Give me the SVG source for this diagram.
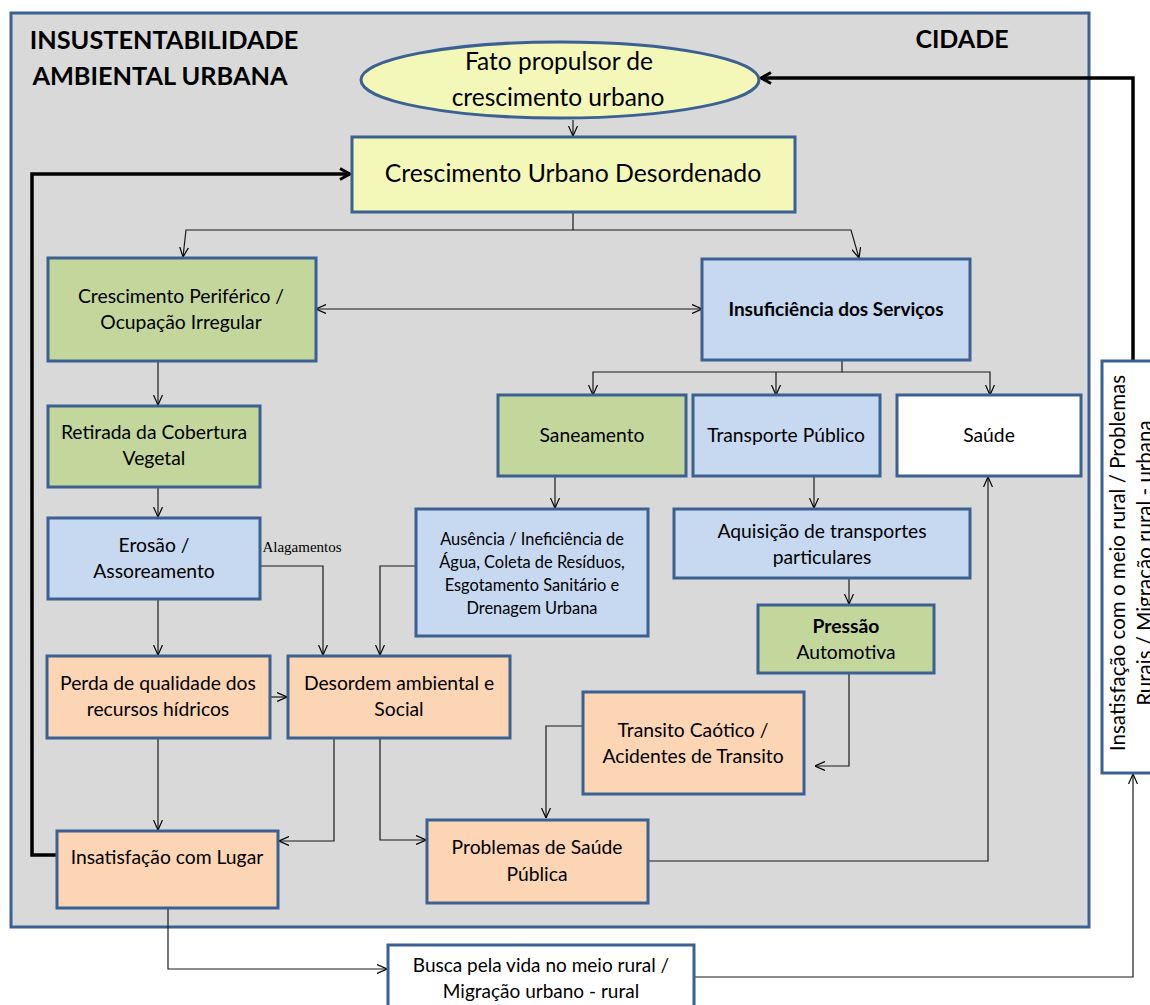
<svg xmlns="http://www.w3.org/2000/svg" width="1150" height="1005" viewBox="0 0 1150 1005">
<style>
.box{stroke:#3b6192;stroke-width:3}
.blue{fill:#c6d9f1}
.green{fill:#c3d69b}
.peach{fill:#fcd5b5}
.yellow{fill:#f3f8b8}
.white{fill:#ffffff}
text{font-family:Lato,"Open Sans","Liberation Sans",sans-serif;fill:#000;text-anchor:middle}
.t18{font-size:19.3px}
.t15{font-size:16.4px}
.b{font-weight:bold}
.c{fill:none;stroke:#1a1a1a;stroke-width:1.2}
.k{fill:none;stroke:#000;stroke-width:3.5}
</style>
<defs>
<marker id="a" viewBox="0 0 10 10" refX="10" refY="5" markerWidth="10" markerHeight="10" markerUnits="userSpaceOnUse" orient="auto-start-reverse">
<path d="M0,0.5 L10,5 L0,9.5" fill="none" stroke="#000" stroke-width="1.2"/>
</marker>
<marker id="k" viewBox="0 0 14 14" refX="12" refY="7" markerWidth="14" markerHeight="14" markerUnits="userSpaceOnUse" orient="auto-start-reverse">
<path d="M2,1.5 L12,7 L2,12.5" fill="none" stroke="#000" stroke-width="3"/>
</marker>
</defs>

<g id="cidade">
<rect x="11" y="13" width="1078" height="914" fill="#d9d9d9" stroke="#3b6192" stroke-width="3"/>
<text x="164" y="49" class="b" style="font-size:25.3px">INSUSTENTABILIDADE</text>
<text x="160" y="85" class="b" style="font-size:25.3px">AMBIENTAL URBANA</text>
<text x="962" y="48" class="b" style="font-size:25px">CIDADE</text>
</g>

<g id="connectors">
<path class="c" d="M573,120 V136" marker-end="url(#a)"/>
<path class="c" d="M573,212 V230 H186 L183,257" marker-end="url(#a)"/>
<path class="c" d="M573,230 H851 L859,258" marker-end="url(#a)"/>
<path class="c" d="M316,309 H702" marker-start="url(#a)" marker-end="url(#a)"/>
<path class="c" d="M842,360 V372 H593 V395" marker-end="url(#a)"/>
<path class="c" d="M776,372 V395" marker-end="url(#a)"/>
<path class="c" d="M842,372 H990 V395" marker-end="url(#a)"/>
<path class="c" d="M555,476 V508" marker-end="url(#a)"/>
<path class="c" d="M814,476 V508" marker-end="url(#a)"/>
<path class="c" d="M849,578 V604" marker-end="url(#a)"/>
<path class="c" d="M849,673 V766 H815" marker-end="url(#a)"/>
<path class="c" d="M583,726 H546 V818" marker-end="url(#a)"/>
<path class="c" d="M639,861 H988 V477" marker-end="url(#a)"/>
<path class="c" d="M158,361 V405" marker-end="url(#a)"/>
<path class="c" d="M158,487 V517" marker-end="url(#a)"/>
<path class="c" d="M260,566 H323 V655" marker-end="url(#a)"/>
<path class="c" d="M416,566 H380 V655" marker-end="url(#a)"/>
<path class="c" d="M158,599 V655" marker-end="url(#a)"/>
<path class="c" d="M270,697 H287" marker-end="url(#a)"/>
<path class="c" d="M158,738 V830" marker-end="url(#a)"/>
<path class="c" d="M334,738 V841 H279" marker-end="url(#a)"/>
<path class="c" d="M380,738 V840 H426" marker-end="url(#a)"/>
<path class="c" d="M168,908 V969 H387" marker-end="url(#a)"/>
<path class="c" d="M694,977 H1133 V774" marker-end="url(#a)"/>
<path class="k" d="M57,855 H32 V174 H350" marker-end="url(#k)"/>
<path class="k" d="M1133,361 V78 H761" marker-end="url(#k)"/>
<text x="302" y="552" style="font-family:'Liberation Serif','Times New Roman',serif;font-size:15px">Alagamentos</text>
</g>

<g id="fato">
<ellipse cx="560" cy="80" rx="199" ry="38" class="box yellow"/>
<text x="559" y="70" style="font-size:24.5px">Fato propulsor de</text>
<text x="558" y="106" style="font-size:24.5px">crescimento urbano</text>
</g>

<g id="crescimento-desordenado">
<rect x="352" y="137" width="443" height="75" class="box yellow"/>
<text x="573" y="182" style="font-size:24.8px">Crescimento Urbano Desordenado</text>
</g>

<g id="periferico">
<rect x="48" y="258" width="268" height="103" class="box green"/>
<text x="181" y="303" class="t18">Crescimento Periférico /</text>
<text x="181" y="329" class="t18">Ocupação Irregular</text>
</g>

<g id="insuficiencia">
<rect x="702" y="259" width="268" height="101" class="box blue"/>
<text x="836" y="316" class="b" style="font-size:19px">Insuficiência dos Serviços</text>
</g>

<g id="saneamento">
<rect x="498" y="395" width="188" height="81" class="box green"/>
<text x="592" y="442" class="t18">Saneamento</text>
</g>

<g id="transporte">
<rect x="693" y="395" width="187" height="81" class="box blue"/>
<text x="786" y="442" class="t18">Transporte Público</text>
</g>

<g id="saude">
<rect x="897" y="395" width="184" height="81" class="box white"/>
<text x="989" y="442" class="t18">Saúde</text>
</g>

<g id="retirada">
<rect x="48" y="406" width="212" height="81" class="box green"/>
<text x="154" y="439" class="t18">Retirada da Cobertura</text>
<text x="154" y="465" class="t18">Vegetal</text>
</g>

<g id="erosao">
<rect x="48" y="518" width="212" height="81" class="box blue"/>
<text x="154" y="552" class="t18">Erosão /</text>
<text x="154" y="578" class="t18">Assoreamento</text>
</g>

<g id="ausencia">
<rect x="416" y="509" width="232" height="127" class="box blue"/>
<text x="532" y="545" class="t15">Ausência / Ineficiência de</text>
<text x="532" y="568" class="t15">Água, Coleta de Resíduos,</text>
<text x="532" y="591" class="t15">Esgotamento Sanitário e</text>
<text x="532" y="614" class="t15">Drenagem Urbana</text>
</g>

<g id="aquisicao">
<rect x="674" y="509" width="296" height="69" class="box blue"/>
<text x="822" y="538" class="t18">Aquisição de transportes</text>
<text x="822" y="564" class="t18">particulares</text>
</g>

<g id="pressao">
<rect x="758" y="605" width="176" height="68" class="box green"/>
<text x="846" y="633" class="t18 b">Pressão</text>
<text x="846" y="659" class="t18">Automotiva</text>
</g>

<g id="perda">
<rect x="47" y="656" width="223" height="82" class="box peach"/>
<text x="158" y="690" class="t18">Perda de qualidade dos</text>
<text x="158" y="716" class="t18">recursos hídricos</text>
</g>

<g id="desordem">
<rect x="288" y="656" width="222" height="82" class="box peach"/>
<text x="399" y="690" class="t18">Desordem ambiental e</text>
<text x="399" y="716" class="t18">Social</text>
</g>

<g id="transito">
<rect x="583" y="692" width="221" height="102" class="box peach"/>
<text x="693" y="737" class="t18">Transito Caótico /</text>
<text x="693" y="763" class="t18">Acidentes de Transito</text>
</g>

<g id="insatisfacao">
<rect x="57" y="831" width="221" height="77" class="box peach"/>
<text x="167" y="864" class="t18">Insatisfação com Lugar</text>
</g>

<g id="problemas">
<rect x="427" y="820" width="221" height="83" class="box peach"/>
<text x="537" y="854" class="t18">Problemas de Saúde</text>
<text x="537" y="881" class="t18">Pública</text>
</g>

<g id="busca">
<rect x="388" y="945" width="306" height="72" class="box white"/>
<text x="541" y="972" style="font-size:19px">Busca pela vida no meio rural /</text>
<text x="541" y="998" style="font-size:19px">Migração urbano - rural</text>
</g>

<g id="insatisfacao-rural">
<rect x="1102" y="361" width="60" height="412" class="box white"/>
<text transform="translate(1125,563) rotate(-90)" x="0" y="0" style="font-size:20.5px">Insatisfação com o meio rural / Problemas</text>
<text transform="translate(1152,563) rotate(-90)" x="0" y="0" style="font-size:20.5px">Rurais / Migração rural - urbana</text>
</g>
</svg>
